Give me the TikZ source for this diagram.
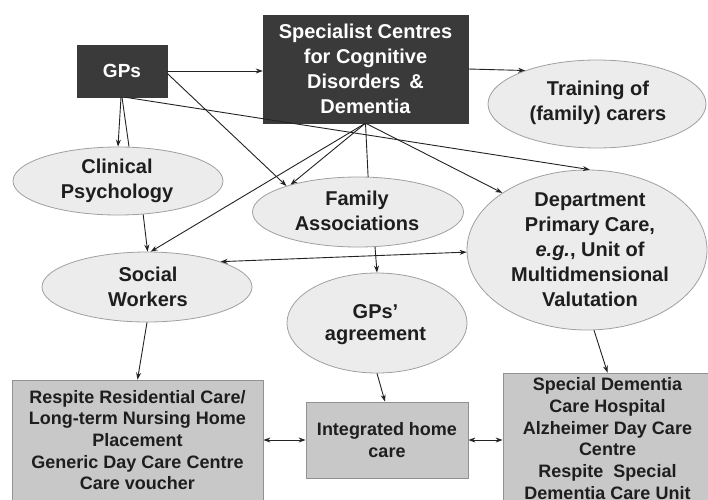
\documentclass[tikz,border=0pt]{standalone}
\usepackage{fontspec}
\setmainfont{Liberation Sans}
\usetikzlibrary{shapes.geometric,arrows.meta}
\definecolor{darkbox}{RGB}{58,58,58}
\definecolor{ellfill}{RGB}{236,236,236}
\definecolor{ellline}{RGB}{160,160,160}
\definecolor{boxfill}{RGB}{200,200,200}
\definecolor{boxline}{RGB}{145,145,145}
\definecolor{txt}{RGB}{30,30,30}
\definecolor{conn}{RGB}{35,35,35}
\begin{document}
\begin{tikzpicture}[x=1pt,y=-1pt,
  darknode/.style={rectangle, draw=darkbox, fill=darkbox, text=white, inner sep=0pt, align=center},
  ellnode/.style={ellipse, draw=ellline, fill=ellfill, inner sep=0pt, line width=0.8pt},
  elltext/.style={align=center, font=\fontsize{20}{25}\selectfont\bfseries, text=txt, inner sep=0pt},
  boxnode/.style={rectangle, draw=boxline, fill=boxfill, line width=0.8pt, inner sep=0pt, align=center, text=txt, font=\fontsize{18}{21.7}\selectfont\bfseries},
  arr/.style={-{Stealth[length=7pt,width=5pt]}, draw=conn, line width=0.9pt},
  darr/.style={{Stealth[length=7pt,width=5pt]}-{Stealth[length=7pt,width=5pt]}, draw=conn, line width=0.9pt},
  ln/.style={draw=conn, line width=0.9pt}
]
\clip (0,0) rectangle (708,499);
\fill[white] (0,0) rectangle (708,499);

% dark boxes
\node[darknode, minimum width=90pt, minimum height=52pt, font=\fontsize{19}{24}\selectfont\bfseries] (gps) at (122,71) {GPs};
\node[darknode, minimum width=205pt, minimum height=108pt, font=\fontsize{20}{25}\selectfont\bfseries] (spec) at (365.5,69) {Specialist Centres\\for Cognitive\\Disorders~\,\&\\Dementia};

% ellipses
\node[ellnode, minimum width=218pt, minimum height=88pt] (train) at (597,104) {};
\node[elltext] (traint) at (598,103) {Training of\\(family) carers};

\node[ellnode, minimum width=210pt, minimum height=68pt] (clin) at (118,181) {};
\node[elltext] (clint) at (117,181) {Clinical\\Psychology};

\node[ellnode, minimum width=211pt, minimum height=70pt] (fam) at (358,212) {};
\node[elltext] (famt) at (357,211) {Family\\Associations};

\node[ellnode, minimum width=240pt, minimum height=160pt] (dept) at (587,250) {};
\node[elltext] (deptt) at (590,250) {Department\\Primary Care,\\\textit{e.g.}, Unit of\\Multidmensional\\Valutation};

\node[ellnode, minimum width=210pt, minimum height=70pt] (soc) at (147,287) {};
\node[elltext] (soct) at (148,287) {Social\\Workers};

\node[ellnode, minimum width=180pt, minimum height=100pt] (agree) at (377,323) {};
\node[elltext, font=\fontsize{20}{22}\selectfont\bfseries] (agreet) at (375.5,325) {GPs'\\agreement};

% bottom boxes
\node[boxnode, minimum width=251pt, minimum height=120pt] (resp) at (137.5,440) {Respite Residential Care/\\Long-term Nursing Home\\Placement\\Generic Day Care Centre\\Care voucher};
\node[boxnode, minimum width=162pt, minimum height=76pt] (integ) at (387,440) {Integrated home\\care};
\node[boxnode, minimum width=209pt, minimum height=131pt] (spdem) at (607.5,438.5) {Special Dementia\\Care Hospital\\Alzheimer Day Care\\Centre\\Respite~ Special\\Dementia Care Unit};

% connectors
\draw[arr] (gps.east) -- (gps.east -| spec.west);
\draw[arr] ([xshift=-1]gps.south) -- (clin.north);
\draw[ln] (gps.south) -- ([xshift=11]clin.north);
\draw[arr] (gps.-3) -- (fam.160);
\draw[arr] ([xshift=3]gps.south) -- (dept.88);
\draw[arr] (spec.east) -- (train.155);
\draw[arr] (spec.south) -- (soc.84);
\draw[arr] (spec.south) -- (fam.158);
\draw[ln] (spec.south) -- (fam.74);
\draw[arr] (spec.south) -- (dept.146);
\draw[arr] (clin.-53) -- (soc.89);
\draw[darr] (soc.19) -- (dept.181);
\draw[arr] (fam.296) -- (agree.north);
\draw[arr] (soc.south) -- (resp.north);
\draw[arr] (agree.south) -- ([xshift=-2]integ.north);
\draw[arr] (dept.-85) -- (spdem.north);
\draw[darr] (resp.east) -- (integ.west);
\draw[darr] (integ.east) -- (integ.east -| spdem.west);
\end{tikzpicture}
\end{document}
